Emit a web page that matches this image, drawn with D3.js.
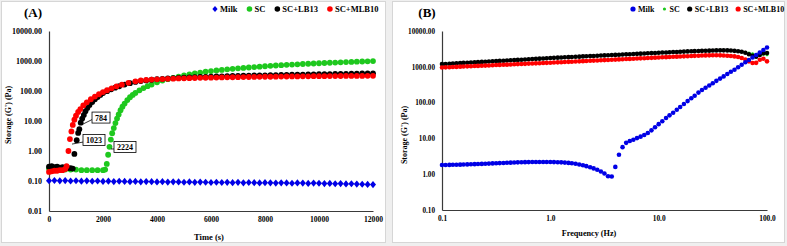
<!DOCTYPE html>
<html>
<head>
<meta charset="utf-8">
<script src="https://cdn.jsdelivr.net/npm/d3@7/dist/d3.min.js"></script>
<style>
  body { margin: 0; background: #efefef; }
  svg { display: block; font-family: "Liberation Serif", "Times New Roman", serif; font-weight: bold; }
</style>
</head>
<body>
<div id="chart"></div>
<script>
// ---------- data ----------
const seriesNames = ["Milk", "SC", "SC+LB13", "SC+MLB10"];

// (A) time sweep: [time (s), G' (Pa)]
const milkA = [
  [0,0.102],[200,0.104],[400,0.101],[600,0.103],[800,0.100],[1000,0.102],[1200,0.099],[1400,0.101],[1600,0.098],[1800,0.100],
  [2000,0.097],[2200,0.099],[2400,0.096],[2600,0.098],[2800,0.097],[3000,0.095],[3200,0.097],[3400,0.094],[3600,0.096],[3800,0.095],
  [4000,0.093],[4200,0.095],[4400,0.092],[4600,0.094],[4800,0.093],[5000,0.091],[5200,0.093],[5400,0.090],[5600,0.092],[5800,0.091],
  [6000,0.089],[6200,0.091],[6400,0.089],[6600,0.090],[6800,0.088],[7000,0.090],[7200,0.087],[7400,0.089],[7600,0.088],[7800,0.086],
  [8000,0.088],[8200,0.087],[8400,0.085],[8600,0.087],[8800,0.086],[9000,0.084],[9200,0.086],[9400,0.085],[9600,0.083],[9800,0.085],
  [10000,0.084],[10200,0.082],[10400,0.083],[10600,0.081],[10800,0.082],[11000,0.080],[11200,0.081],[11400,0.079],[11600,0.078],[11800,0.077],
  [12000,0.076]
];
const scA = [
  [0,0.26],[200,0.25],[400,0.25],[600,0.24],[800,0.24],[1000,0.24],[1200,0.23],[1400,0.23],[1600,0.23],[1800,0.23],
  [2000,0.23],[2080,0.24],[2140,0.37],[2190,0.75],[2240,1.38],[2290,2.4],[2340,3.9],[2400,5.8],[2460,8.5],[2520,12],
  [2580,16.5],[2650,23],[2720,30],[2800,38],[2900,50],[3000,62],[3100,74],[3200,86],[3350,105],[3500,125],
  [3650,145],[3800,165],[4000,195],[4200,222],[4400,248],[4600,274],[4800,300],[5000,328],[5200,356],[5400,384],
  [5600,412],[5800,438],[6000,462],[6200,485],[6400,506],[6600,527],[6800,548],[7000,568],[7200,588],[7400,608],
  [7600,628],[7800,648],[8000,668],[8200,688],[8400,707],[8600,725],[8800,743],[9000,760],[9200,777],[9400,794],
  [9600,810],[9800,826],[10000,842],[10200,858],[10400,873],[10600,888],[10800,903],[11000,918],[11200,933],[11400,948],
  [11600,963],[11800,978],[12000,992]
];
const lb13A = [
  [0,0.30],[100,0.31],[200,0.29],[300,0.30],[400,0.28],[500,0.29],[600,0.28],[700,0.27],[800,0.27],[880,0.26],
  [940,0.80],[1026,2.3],[1080,4.0],[1123,5.3],[1174,8.8],[1230,12],[1290,16],[1350,21],[1420,27],[1500,34],
  [1600,43],[1700,53],[1800,63],[1900,74],[2000,85],[2150,99],[2300,114],[2450,129],[2600,144],[2800,164],
  [3000,183],[3200,200],[3400,214],[3600,226],[3800,237],[4000,247],[4200,255],[4400,262],[4600,268],[4800,274],
  [5000,279],[5200,284],[5400,289],[5600,293],[5800,297],[6000,301],[6200,305],[6400,309],[6600,312],[6800,316],
  [7000,319],[7200,322],[7400,325],[7600,328],[7800,331],[8000,334],[8200,337],[8400,340],[8600,343],[8800,346],
  [9000,349],[9200,351],[9400,354],[9600,357],[9800,359],[10000,362],[10200,365],[10400,367],[10600,370],[10800,372],
  [11000,375],[11200,377],[11400,380],[11600,383],[11800,385],[12000,388]
];
const mlb10A = [
  [0,0.20],[100,0.21],[200,0.22],[300,0.22],[400,0.23],[500,0.23],[600,0.25],[650,0.31],[720,1.0],[775,2.5],
  [830,4.5],[880,7.4],[940,11],[1000,15],[1080,20],[1160,25],[1270,33],[1400,42],[1550,53],[1700,65],
  [1850,78],[2000,92],[2150,106],[2320,123],[2500,143],[2700,163],[2940,188],[3200,210],[3400,224],[3600,234],
  [3800,240],[4000,245],[4200,250],[4400,254],[4600,258],[4800,262],[5000,265],[5200,268],[5400,271],[5600,274],
  [5800,276],[6000,279],[6200,281],[6400,283],[6600,285],[6800,287],[7000,289],[7200,291],[7400,293],[7600,294],
  [7800,296],[8000,298],[8200,299],[8400,301],[8600,302],[8800,304],[9000,305],[9200,307],[9400,308],[9600,309],
  [9800,311],[10000,312],[10200,313],[10400,314],[10600,315],[10800,316],[11000,317],[11200,318],[11400,319],[11600,319],
  [11800,320],[12000,321]
];
// gel-point call-outs on (A): label, time, G'
const gelPoints = [
  { label: "784",  t: 1260, g: 7.9 },
  { label: "1023", t: 852,  g: 1.7 },
  { label: "2224", t: 2296, g: 1.17 }
];
const xTicksA = [0, 2000, 4000, 6000, 8000, 10000, 12000];
const yTicksA = [0.01, 0.1, 1, 10, 100, 1000, 10000];

// (B) frequency sweep
const freqB = [
  0.1,0.108,0.117,0.126,0.136,0.147,0.158,0.171,0.185,0.2,
  0.215,0.233,0.251,0.271,0.293,0.316,0.341,0.369,0.398,0.43,
  0.464,0.501,0.541,0.584,0.631,0.681,0.736,0.794,0.858,0.926,
  1,1.08,1.17,1.26,1.36,1.47,1.58,1.71,1.85,2,
  2.15,2.33,2.51,2.71,2.93,3.16,3.41,3.69,3.98,4.3,
  4.64,5.01,5.41,5.84,6.31,6.81,7.36,7.94,8.58,9.26,
  10,10.8,11.7,12.6,13.6,14.7,15.8,17.1,18.5,20,
  21.5,23.3,25.1,27.1,29.3,31.6,34.1,36.9,39.8,43,
  46.4,50.1,54.1,58.4,63.1,68.1,73.6,79.4,85.8,92.6,
  100
];
const milkB = [
  1.80,1.81,1.82,1.83,1.84,1.85,1.86,1.88,1.89,1.91,
  1.92,1.94,1.96,1.98,2.00,2.02,2.04,2.06,2.08,2.10,
  2.12,2.14,2.15,2.17,2.18,2.19,2.20,2.20,2.20,2.20,
  2.19,2.18,2.16,2.14,2.11,2.07,2.02,1.95,1.87,1.78,
  1.68,1.57,1.45,1.33,1.19,1.05,0.88,0.86,1.6,3.5,
  5.7,7.5,8.5,9.2,10.2,11.2,12.4,14.2,16.8,20.5,
  25,30,37,44,52,63,75,91,110,132,
  156,190,225,259,300,348,405,468,540,630,
  725,830,975,1140,1340,1550,1820,2130,2500,2940,
  3470
];
const scB = [
  1180,1200,1210,1230,1250,1260,1280,1300,1310,1330,
  1350,1360,1380,1400,1420,1440,1460,1470,1490,1510,
  1530,1550,1570,1590,1620,1640,1660,1680,1700,1720,
  1750,1770,1790,1810,1830,1850,1870,1890,1910,1940,
  1960,1980,2000,2020,2050,2070,2090,2120,2140,2170,
  2190,2220,2240,2270,2290,2320,2350,2370,2400,2430,
  2460,2490,2510,2540,2570,2590,2620,2650,2680,2700,
  2730,2750,2780,2800,2820,2840,2860,2870,2870,2860,
  2830,2780,2720,2640,2530,2400,2300,2230,2260,2250,
  2180
];
const lb13B = [
  1190,1200,1220,1240,1250,1270,1290,1300,1320,1340,
  1350,1370,1390,1410,1430,1450,1460,1480,1500,1520,
  1540,1560,1580,1600,1630,1650,1670,1690,1710,1730,
  1760,1780,1800,1820,1840,1860,1880,1900,1920,1950,
  1970,1990,2010,2030,2060,2080,2100,2130,2150,2180,
  2200,2230,2250,2280,2300,2330,2360,2380,2410,2440,
  2470,2500,2520,2550,2580,2600,2630,2660,2690,2710,
  2740,2760,2790,2810,2830,2850,2870,2880,2880,2870,
  2840,2790,2720,2620,2470,2250,2040,1920,2150,2380,
  2420
];
const mlb10B = [
  955,965,975,985,995,1010,1020,1030,1040,1050,
  1060,1070,1080,1090,1100,1120,1130,1140,1150,1160,
  1180,1190,1200,1210,1230,1240,1250,1260,1280,1290,
  1300,1315,1330,1345,1360,1375,1390,1405,1420,1440,
  1455,1470,1490,1505,1520,1540,1555,1570,1590,1610,
  1625,1645,1660,1680,1700,1720,1740,1760,1780,1800,
  1820,1840,1860,1880,1900,1920,1940,1960,1980,2000,
  2020,2040,2060,2080,2090,2100,2100,2090,2070,2040,
  2000,1950,1870,1760,1600,1420,1280,1290,1580,1680,
  1420
];
const xTicksB = [0.1, 1, 10, 100];
const yTicksB = [0.1, 1, 10, 100, 1000, 10000];

// ---------- setup ----------
const W = 787, H = 246;
const color = d3.scaleOrdinal()
  .domain(seriesNames)
  .range(["#0000e6", "#1ec81e", "#000000", "#ff0000"]);
const diamond = "M0,-3.6L3,0L0,3.6L-3,0Z";

const svg = d3.select("#chart").append("svg")
  .attr("width", W).attr("height", H);

// panel frames
svg.append("rect").attr("x", 1.5).attr("y", 1.5).attr("width", 384).attr("height", 241)
  .attr("fill", "#fff").attr("stroke", "#d6d6d6");
svg.append("rect").attr("x", 392.5).attr("y", 1.5).attr("width", 392).attr("height", 241)
  .attr("fill", "#fff").attr("stroke", "#d6d6d6");

function styleAxis(sel, size){
  sel.attr("font-family", null).attr("font-size", size);
  sel.select(".domain").attr("stroke", "#3a3a3a").attr("stroke-width", 1.2);
  sel.selectAll("text").attr("fill", "#000");
}

function legend(x0, y0, size, gap, markers){
  const lg = svg.append("g").attr("font-size", size);
  let x = x0;
  seriesNames.forEach((name, i) => {
    const m = markers[i];
    if (m.shape === "diamond") {
      lg.append("path").attr("d", "M0,-3L2.6,0L0,3L-2.6,0Z")
        .attr("transform", `translate(${x},${y0})`).attr("fill", color(name));
    } else {
      lg.append("circle").attr("cx", x).attr("cy", y0).attr("r", m.r).attr("fill", color(name));
    }
    const t = lg.append("text").attr("x", x + 5).attr("y", y0 + size * 0.35).text(name);
    x = x + 5 + t.node().getComputedTextLength() + gap;
  });
}

// ---------- (A) ----------
const xA = d3.scaleLinear().domain([0, 12000]).range([49, 373]);
const yA = d3.scaleLog().domain([0.01, 10000]).range([211, 31]);

const gA = svg.append("g");
gA.append("g")
  .attr("transform", `translate(0,${yA.range()[0]})`)
  .call(d3.axisBottom(xA).tickValues(xTicksA).tickSize(0).tickPadding(6).tickFormat(d3.format("d")))
  .call(s => styleAxis(s, 7.6));
gA.append("g")
  .attr("transform", `translate(${xA.range()[0]},0)`)
  .call(d3.axisLeft(yA).tickValues(yTicksA).tickSize(0).tickPadding(7).tickFormat(d3.format(".2f")))
  .call(s => styleAxis(s, 8));

const seriesA = [
  { key: "Milk", values: milkA },
  { key: "SC", values: scA },
  { key: "SC+LB13", values: lb13A },
  { key: "SC+MLB10", values: mlb10A }
];
seriesA.forEach(s => {
  const grp = gA.append("g").attr("fill", color(s.key));
  if (s.key === "Milk") {
    grp.selectAll("path").data(s.values).join("path")
      .attr("d", diamond)
      .attr("transform", d => `translate(${xA(d[0])},${yA(d[1])})`);
  } else {
    grp.selectAll("circle").data(s.values).join("circle")
      .attr("cx", d => xA(d[0])).attr("cy", d => yA(d[1])).attr("r", 2.9);
  }
});

// call-outs
const boxOff = { "784": [9, -6.5], "1023": [11, -4], "2224": [3, -2] };
gelPoints.forEach(p => {
  const tx = xA(p.t), ty = yA(p.g);
  const [dx, dy] = boxOff[p.label];
  const bx = tx + dx, by = ty + dy;
  const g = gA.append("g");
  const txt = g.append("text").attr("font-size", 8)
    .attr("x", bx + 3).attr("y", by + 3).text(p.label);
  const w = txt.node().getComputedTextLength() + 6;
  g.insert("rect", "text").attr("x", bx).attr("y", by - 5.5).attr("width", w).attr("height", 11)
    .attr("fill", "#fff").attr("stroke", "#000").attr("stroke-width", 0.8);
  g.insert("line", "rect").attr("x1", tx).attr("y1", ty).attr("x2", bx).attr("y2", by + 2)
    .attr("stroke", "#000").attr("stroke-width", 0.8);
});

svg.append("text").attr("x", 33).attr("y", 17).attr("text-anchor", "middle")
  .attr("font-size", 13).text("(A)");
svg.append("text").attr("x", 209).attr("y", 240).attr("text-anchor", "middle")
  .attr("font-size", 8.5).text("Time (s)");
svg.append("text").attr("transform", "translate(11,115) rotate(-90)").attr("text-anchor", "middle")
  .attr("font-size", 8).text("Storage (G') (Pa)");
legend(215, 9, 8.5, 12, [{ shape: "diamond" }, { r: 2.8 }, { r: 2.8 }, { r: 2.8 }]);

// ---------- (B) ----------
const xB = d3.scaleLog().domain([0.1, 100]).range([442, 767]);
const yB = d3.scaleLog().domain([0.1, 10000]).range([210, 31]);

const gB = svg.append("g");
gB.append("g")
  .attr("transform", `translate(0,${yB.range()[0]})`)
  .call(d3.axisBottom(xB).tickValues(xTicksB).tickSize(0).tickPadding(6).tickFormat(d3.format(".1f")))
  .call(s => styleAxis(s, 7.4));
gB.append("g")
  .attr("transform", `translate(${xB.range()[0]},0)`)
  .call(d3.axisLeft(yB).tickValues(yTicksB).tickSize(0).tickPadding(7).tickFormat(d3.format(".2f")))
  .call(s => styleAxis(s, 7.2));

const seriesB = [
  { key: "SC", values: scB, r: 1.6 },
  { key: "SC+LB13", values: lb13B, r: 2.3 },
  { key: "SC+MLB10", values: mlb10B, r: 2.3 },
  { key: "Milk", values: milkB, r: 2.3 }
];
seriesB.forEach(s => {
  gB.append("g").attr("fill", color(s.key))
    .selectAll("circle").data(s.values.map((v, i) => [freqB[i], v])).join("circle")
    .attr("cx", d => xB(d[0])).attr("cy", d => yB(d[1])).attr("r", s.r);
});

svg.append("text").attr("x", 427).attr("y", 17).attr("text-anchor", "middle")
  .attr("font-size", 13).text("(B)");
svg.append("text").attr("x", 589).attr("y", 236).attr("text-anchor", "middle")
  .attr("font-size", 8.2).text("Frequency (Hz)");
svg.append("text").attr("transform", "translate(407,135) rotate(-90)").attr("text-anchor", "middle")
  .attr("font-size", 8).text("Storage (G') (Pa)");
legend(633, 9, 8, 10, [{ r: 2.6 }, { r: 1.6 }, { r: 2.6 }, { r: 2.6 }]);
</script>
</body>
</html>
